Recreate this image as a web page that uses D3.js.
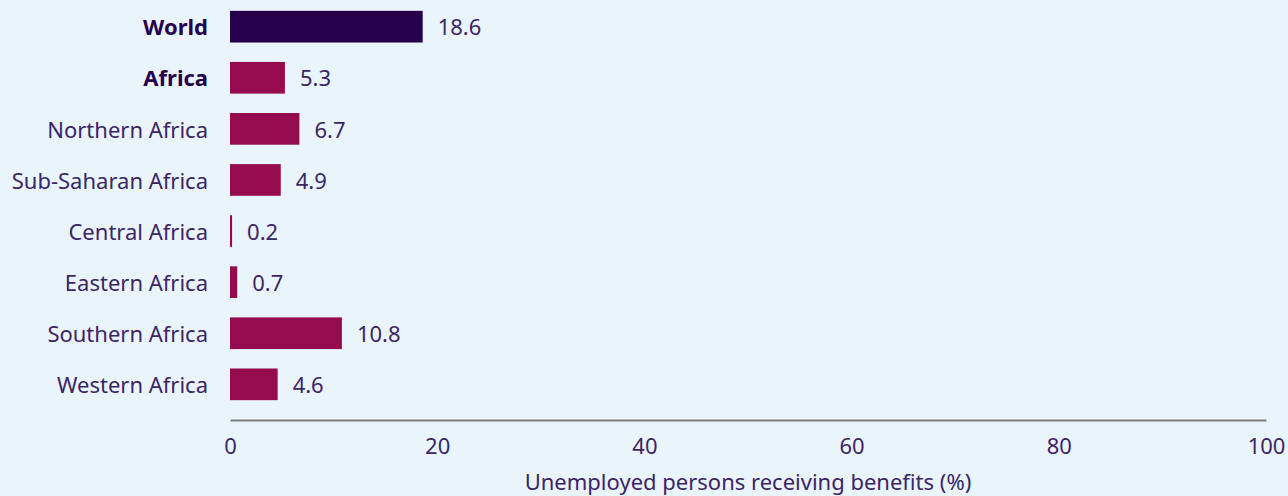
<!DOCTYPE html>
<html>
<head>
<meta charset="utf-8">
<script src="https://cdn.jsdelivr.net/npm/d3@7"></script>
<style>
  body { margin: 0; background: #eaf4fb; }
  svg { display: block; font-family: "Noto Sans", "Open Sans", sans-serif; }
</style>
</head>
<body>
<svg id="chart"></svg>
<script>
let regions = ['World', 'Africa', 'Northern Africa', 'Sub-Saharan Africa', 'Central Africa',
               'Eastern Africa', 'Southern Africa', 'Western Africa']
let values = [18.6, 5.3, 6.7, 4.9, 0.2, 0.7, 10.8, 4.6]
let boldRows = ['World', 'Africa']
let xTicks = [0, 20, 40, 60, 80, 100]
let xTitle = 'Unemployed persons receiving benefits (%)'

let width = 1288
let height = 496
let left = 230
let right = 1266
let fontSize = 22

let svg = d3.select('#chart')
    .attr('width', width)
    .attr('height', height)

let xScale = d3.scaleLinear()
    .domain([0, 100])
    .range([left, right])

let yScale = d3.scaleBand()
    .domain(regions)
    .range([-5, 416])
    .paddingInner(0.38)
    .paddingOuter(0.31)

let rows = regions.map((r, i) => ({ name: r, value: values[i] }))

// bars
svg.selectAll('rect.bar')
    .data(rows)
    .enter()
    .append('rect')
    .attr('class', 'bar')
    .attr('x', xScale(0))
    .attr('y', d => yScale(d.name))
    .attr('width', d => xScale(d.value) - xScale(0))
    .attr('height', yScale.bandwidth())
    .attr('fill', d => d.name === 'World' ? '#26004b' : '#960a4f')

// value labels
svg.selectAll('text.val')
    .data(rows)
    .enter()
    .append('text')
    .attr('class', 'val')
    .attr('x', d => xScale(d.value) + 15)
    .attr('y', d => yScale(d.name) + yScale.bandwidth() / 2 + 1)
    .attr('dy', '0.35em')
    .attr('font-size', fontSize)
    .attr('fill', '#3b2566')
    .text(d => d.value.toFixed(1))

// category labels
svg.selectAll('text.cat')
    .data(rows)
    .enter()
    .append('text')
    .attr('class', 'cat')
    .attr('x', 208)
    .attr('y', d => yScale(d.name) + yScale.bandwidth() / 2 + 1)
    .attr('dy', '0.35em')
    .attr('text-anchor', 'end')
    .attr('font-size', fontSize)
    .attr('font-weight', d => boldRows.includes(d.name) ? 700 : 400)
    .attr('fill', d => boldRows.includes(d.name) ? '#26004b' : '#3b2566')
    .text(d => d.name)

// x axis
let xAxis = d3.axisBottom(xScale)
    .tickValues(xTicks)
    .tickSize(0)
    .tickPadding(18)

let axisG = svg.append('g')
    .attr('transform', 'translate(0, 420)')
    .call(xAxis)

axisG.select('.domain')
    .attr('stroke', '#7b7b7b')
    .attr('stroke-width', 2)
axisG.selectAll('text')
    .attr('font-size', fontSize)
    .attr('font-family', '"Noto Sans", "Open Sans", sans-serif')
    .attr('fill', '#3b2566')

svg.append('text')
    .attr('x', (left + right) / 2)
    .attr('y', 490)
    .attr('text-anchor', 'middle')
    .attr('font-size', fontSize)
    .attr('fill', '#3b2566')
    .text(xTitle)
</script>
</body>
</html>
